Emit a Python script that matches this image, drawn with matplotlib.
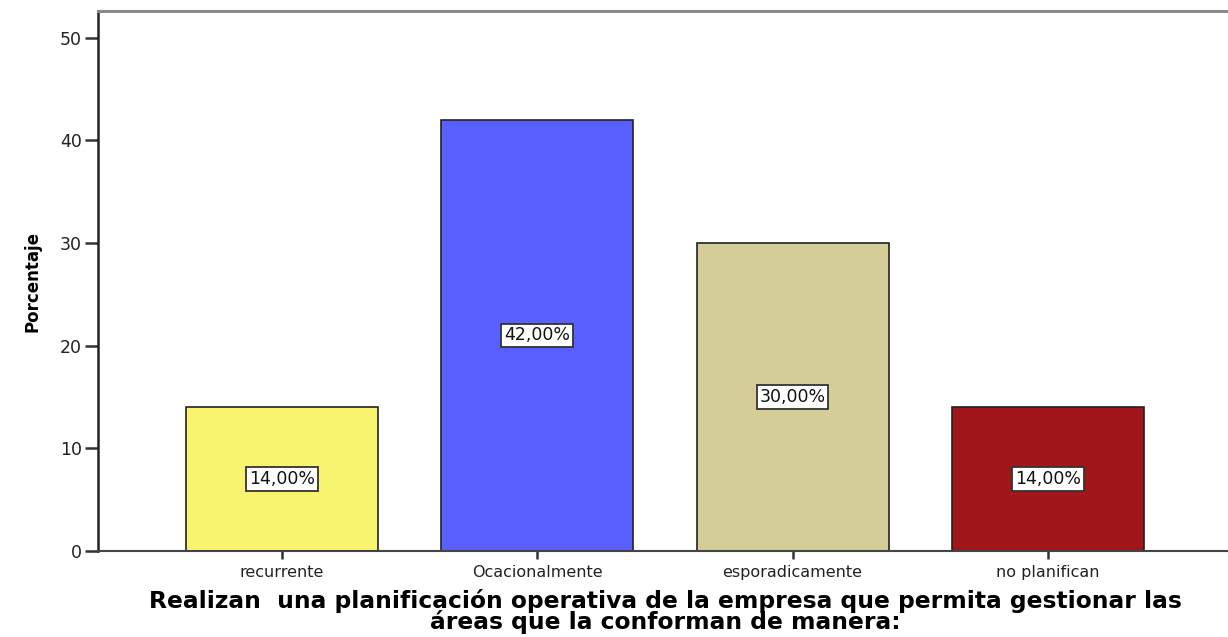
import matplotlib.pyplot as plt

categories = ['recurrente', 'Ocacionalmente', 'esporadicamente', 'no planifican']
porcentajes = [14.0, 42.0, 30.0, 14.0]
colores = ['#F8F470', '#5A5FFF', '#D4CD98', '#A0161A']
etiquetas = ['14,00%', '42,00%', '30,00%', '14,00%']

fig = plt.figure(figsize=(12.28, 6.37), dpi=100)
ax = fig.add_axes([0.0798, 0.135, 0.9202, 0.8475])

x = range(len(categories))
ax.bar(x, porcentajes, width=0.752, color=colores, edgecolor='#222222', linewidth=1.2, zorder=2)

for i, (v, txt) in enumerate(zip(porcentajes, etiquetas)):
    ax.text(i, v / 2, txt, ha='center', va='center', fontsize=12.5, color='#111111',
            bbox=dict(boxstyle='square,pad=0.16', facecolor='white', edgecolor='#333333', linewidth=1.3),
            zorder=3)

ax.set_xlim(-0.72, 3.705)
ax.set_ylim(0, 52.6)
ax.set_yticks([0, 10, 20, 30, 40, 50])
ax.set_xticks(list(x))
ax.set_xticklabels(categories, fontsize=11.5, color='#222222')
ax.tick_params(axis='y', labelsize=12.5, length=9.5, width=1.8, color='#333333', pad=2, labelcolor='#222222')
ax.tick_params(axis='x', length=6, width=1.8, color='#333333', pad=4)

ax.spines['right'].set_visible(False)
ax.spines['left'].set_linewidth(1.8)
ax.spines['left'].set_color('#222222')
ax.spines['bottom'].set_linewidth(1.5)
ax.spines['bottom'].set_color('#444444')
ax.spines['top'].set_linewidth(2.2)
ax.spines['top'].set_color('#8a8a8a')

ax.set_ylabel('Porcentaje', fontsize=12, fontweight='bold', labelpad=13)
fig.text(0.542, 0.040, 'Realizan  una planificación operativa de la empresa que permita gestionar las\náreas que la conforman de manera:',
         ha='center', va='center', fontsize=16.8, fontweight='bold', linespacing=0.88)

fig.savefig('out.png', dpi=100)
